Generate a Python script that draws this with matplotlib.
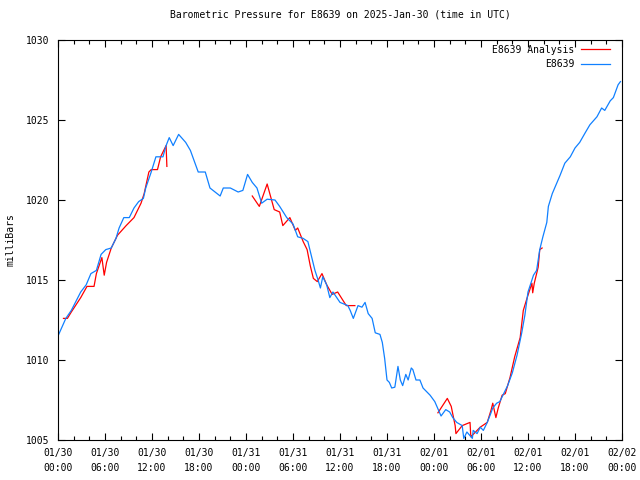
import numpy as np
import matplotlib
matplotlib.use('Agg')
import matplotlib.pyplot as plt

# Dane: godziny od 2025-01-30 00:00 UTC oraz ciśnienie [mbar]
obs_hours = [0.0, 1.0, 1.7, 2.9, 3.6, 4.2, 4.9, 5.5, 6.1, 6.8, 7.4, 7.8, 8.4, 9.1, 9.7,
             10.3, 10.9, 11.2, 11.9, 12.5, 13.4, 13.8, 14.2, 14.7, 15.4, 16.3, 16.9, 17.9,
             18.8, 19.4, 20.3, 20.7, 21.1, 22.0, 23.0, 23.6, 24.2, 24.8, 25.4, 26.0, 26.7,
             27.7, 28.3, 29.2, 30.0, 30.6, 31.3, 31.9, 32.4, 32.8, 33.2, 33.5, 33.8, 34.3,
             34.7, 35.1, 36.0, 37.0, 37.3, 37.7, 38.3, 38.8, 39.2, 39.6, 40.1, 40.5, 41.1,
             41.4, 41.7, 42.0, 42.3, 42.6, 43.0, 43.4, 43.7, 44.0, 44.4, 44.7, 45.1, 45.3,
             45.7, 46.2, 46.6, 47.5, 48.1, 48.9, 49.5, 50.0, 50.4, 50.9, 51.6, 51.8, 52.2,
             52.9, 53.0, 53.5, 53.9, 54.3, 54.8, 55.2, 55.5, 56.0, 56.4, 56.8, 57.4, 58.0,
             58.6, 59.2, 59.6, 60.0, 60.7, 61.1, 61.5, 61.9, 62.4, 62.6, 63.1, 63.7, 64.1,
             64.7, 65.4, 66.0, 66.6, 67.3, 67.9, 68.8, 69.4, 69.8, 70.5, 70.9, 71.5, 71.8]
obs_mbar = [1011.5, 1012.6, 1013.1, 1014.25, 1014.7, 1015.4, 1015.6, 1016.6, 1016.9, 1017.0,
            1017.6, 1018.25, 1018.9, 1018.9, 1019.5, 1019.9, 1020.1, 1020.75, 1021.75, 1022.7,
            1022.7, 1023.4, 1023.9, 1023.4, 1024.1, 1023.6, 1023.1, 1021.75, 1021.75, 1020.75,
            1020.4, 1020.25, 1020.75, 1020.75, 1020.5, 1020.6, 1021.6, 1021.1, 1020.75, 1019.8,
            1020.05, 1020.0, 1019.6, 1018.9, 1018.5, 1017.7, 1017.6, 1017.4, 1016.4, 1015.6,
            1015.0, 1014.5, 1015.2, 1014.7, 1013.9, 1014.25, 1013.6, 1013.4, 1013.1, 1012.6,
            1013.4, 1013.3, 1013.6, 1012.9, 1012.6, 1011.7, 1011.6, 1011.1, 1010.1, 1008.75,
            1008.6, 1008.25, 1008.3, 1009.6, 1008.75, 1008.4, 1009.1, 1008.75, 1009.5, 1009.4,
            1008.75, 1008.75, 1008.25, 1007.8, 1007.4, 1006.5, 1006.9, 1006.75, 1006.4, 1006.1,
            1005.9, 1005.1, 1005.5, 1005.1, 1005.6, 1005.4, 1005.8, 1005.6, 1006.1, 1006.6,
            1007.0, 1007.3, 1007.4, 1007.8, 1008.4, 1009.2, 1010.3, 1011.7, 1012.8, 1014.25,
            1015.3, 1015.6, 1016.9, 1017.7, 1018.6, 1019.6, 1020.4, 1021.1, 1021.55, 1022.3,
            1022.7, 1023.25, 1023.6, 1024.2, 1024.7, 1025.2, 1025.75, 1025.6, 1026.2, 1026.4,
            1027.2, 1027.4]

# Analiza - trzy odcinki rozdzielone NaN
ana_hours = [0.7, 1.2, 1.7, 2.9, 3.7, 4.6, 4.9, 5.6, 5.9, 6.2, 6.8, 7.6, 8.7, 9.7, 10.6, 11.0,
             11.6, 11.9, 12.7, 13.1, 13.4, 13.8, 13.9, np.nan,
             24.8, 25.7, 26.7, 27.6, 28.3, 28.7, 29.6, 30.3, 30.6, 31.3, 31.8, 32.2, 32.6, 33.1,
             33.7, 34.3, 35.0, 35.7, 36.8, 37.9, np.nan,
             48.5, 49.7, 50.2, 50.7, 50.8, 51.6, 52.6, 52.7, 53.9, 54.8, 55.3, 55.5, 55.9, 56.2,
             56.7, 57.1, 57.7, 58.3, 59.0, 59.4, 59.9, 60.5, 60.6, 60.8, 61.3, 61.5, 61.8]
ana_mbar = [1012.6, 1012.6, 1013.0, 1013.9, 1014.6, 1014.6, 1015.4, 1016.4, 1015.3, 1016.1,
            1017.0, 1017.8, 1018.4, 1018.9, 1019.8, 1020.4, 1021.75, 1021.9, 1021.9, 1022.7,
            1023.0, 1023.4, 1022.1, np.nan,
            1020.25, 1019.6, 1021.0, 1019.4, 1019.25, 1018.4, 1018.9, 1018.1, 1018.25, 1017.4,
            1016.9, 1015.9, 1015.1, 1014.9, 1015.4, 1014.7, 1014.1, 1014.25, 1013.4, 1013.4, np.nan,
            1006.7, 1007.6, 1007.1, 1005.9, 1005.4, 1005.9, 1006.1, 1005.2, 1005.8, 1006.1,
            1006.9, 1007.3, 1006.4, 1007.0, 1007.8, 1007.9, 1008.9, 1010.2, 1011.4, 1013.1,
            1013.9, 1014.8, 1014.2, 1014.8, 1015.8, 1016.9, 1017.0]

tick_hours = [0, 6, 12, 18, 24, 30, 36, 42, 48, 54, 60, 66, 72]
tick_labels = ['01/30\n00:00', '01/30\n06:00', '01/30\n12:00', '01/30\n18:00',
               '01/31\n00:00', '01/31\n06:00', '01/31\n12:00', '01/31\n18:00',
               '02/01\n00:00', '02/01\n06:00', '02/01\n12:00', '02/01\n18:00',
               '02/02\n00:00']
y_ticks = [1005, 1010, 1015, 1020, 1025, 1030]

plt.rcParams['font.family'] = 'DejaVu Sans Mono'
plt.rcParams['font.size'] = 7

fig = plt.figure(figsize=(6.4, 4.8), dpi=100)
ax = fig.add_axes([58 / 640, 40 / 480, 564 / 640, 400 / 480])

ax.plot(ana_hours, ana_mbar, color='#ff0000', lw=0.9, label='E8639 Analysis')
ax.plot(obs_hours, obs_mbar, color='#1080ff', lw=0.9, label='E8639')

ax.set_xlim(0, 72)
ax.set_ylim(1005, 1030)
ax.set_xticks(tick_hours)
ax.set_xticklabels(tick_labels, linespacing=1.6)
ax.set_xticks(np.arange(0, 73, 2), minor=True)
ax.set_yticks(y_ticks)
ax.tick_params(which='both', direction='in', top=True, right=True, width=0.8)
ax.tick_params(which='major', length=5, pad=6)
ax.tick_params(which='minor', length=3)
for s in ax.spines.values():
    s.set_linewidth(0.8)

ax.set_title('Barometric Pressure for E8639 on 2025-Jan-30 (time in UTC)',
             fontsize=7, pad=16)
ax.set_ylabel('milliBars', labelpad=8)

leg = ax.legend(loc='upper right', bbox_to_anchor=(0.9876, 1.0), frameon=False,
                markerfirst=False, handlelength=3.0, handletextpad=0.7,
                borderaxespad=0.2, borderpad=0.3, labelspacing=0.45, fontsize=7)
for t in leg.get_texts():
    t.set_ha('right')

plt.savefig('out.png', dpi=100)
